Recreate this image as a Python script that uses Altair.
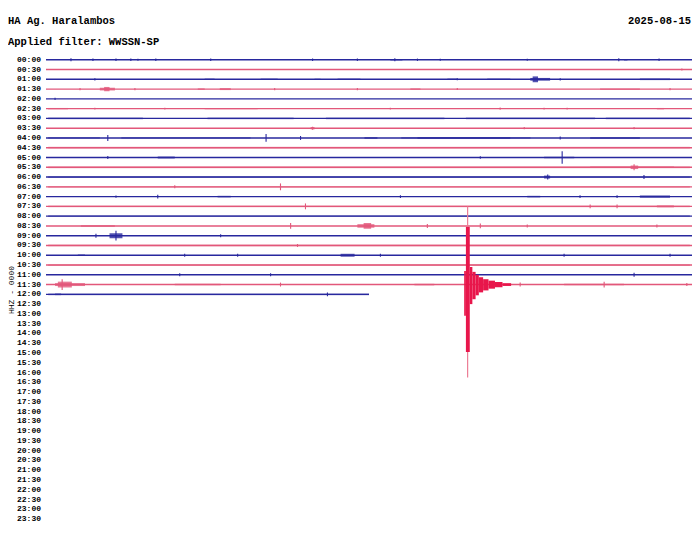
import altair as alt
import pandas as pd

# ---------------- data ----------------
station = "HA Ag. Haralambos"
filter_text = "Applied filter: WWSSN-SP"
date_text = "2025-08-15"
channel_text = "HHZ - 0000"

row_labels = [f"{h:02d}:{m:02d}" for h in range(24) for m in (0, 30)]
# minutes recorded in each 30-minute row (rows 0..24 have data)
row_lengths = [30.0] * 24 + [15.0]

# single spikes: (row, minute, amplitude in row units)
spikes = [
    (0, 1.16, 0.15), (0, 2.18, 0.12), (0, 3.25, 0.12), (0, 3.94, 0.12), (0, 4.27, 0.1),
    (0, 5.10, 0.12), (0, 7.65, 0.12), (0, 12.38, 0.12), (0, 14.46, 0.12), (0, 16.2, 0.15),
    (0, 17.25, 0.12), (0, 18.31, 0.1), (0, 22.35, 0.1), (0, 26.6, 0.15), (0, 28.47, 0.12),
    (1, 29.53, 0.1),
    (2, 2.27, 0.12), (2, 23.88, 0.12), (2, 19.10, 0.1),
    (3, 1.58, 0.12), (3, 4.13, 0.12), (3, 10.62, 0.12), (3, 14.46, 0.12), (3, 19.10, 0.1), (3, 28.98, 0.12),
    (4, 0.42, 0.12),
    (5, 2.27, 0.1), (5, 5.52, 0.1), (5, 15.99, 0.1), (5, 21.09, 0.12), (5, 23.13, 0.1), (5, 24.20, 0.1),
    (7, 12.38, 0.15), (7, 22.21, 0.12), (7, 27.31, 0.12),
    (8, 2.87, 0.3), (8, 10.22, 0.4), (8, 11.82, 0.2), (8, 23.88, 0.15),
    (10, 2.87, 0.15), (10, 20.17, 0.12), (10, 23.97, 0.65),
    (11, 27.31, 0.3),
    (12, 23.30, 0.25), (12, 27.77, 0.2),
    (13, 5.98, 0.15), (13, 10.89, 0.35),
    (14, 3.25, 0.12), (14, 5.19, 0.2), (14, 16.46, 0.15), (14, 24.80, 0.15), (14, 26.52, 0.15),
    (15, 12.05, 0.3), (15, 25.27, 0.2), (15, 26.52, 0.2),
    (17, 11.36, 0.3), (17, 17.71, 0.2), (17, 20.17, 0.25), (17, 22.35, 0.15), (17, 28.37, 0.15),
    (18, 2.32, 0.2), (18, 3.25, 0.5), (18, 8.11, 0.15),
    (19, 11.68, 0.15),
    (20, 6.44, 0.15), (20, 8.90, 0.15), (20, 15.53, 0.15), (20, 24.06, 0.15), (20, 28.98, 0.15),
    (22, 6.21, 0.15), (22, 10.43, 0.15), (22, 27.31, 0.2),
    (23, 0.75, 0.55), (23, 10.89, 0.2), (23, 20.17, 0.2), (23, 22.02, 0.2), (23, 25.92, 0.3),
    (23, 29.76, 0.15),
    (24, 13.07, 0.2),
]

# bursts: (row, start minute, end minute, amplitude in row units)
bursts = [
    (0, 15.99, 16.55, 0.07), (0, 26.84, 27.0, 0.07),
    (2, 7.37, 7.83, 0.07), (2, 9.97, 10.76, 0.07), (2, 12.47, 12.75, 0.06), (2, 13.54, 14.60, 0.07),
    (2, 18.64, 19.10, 0.07), (2, 20.49, 21.56, 0.07), (2, 22.49, 23.41, 0.14), (2, 22.60, 22.85, 0.3),
    (2, 27.58, 28.98, 0.08),
    (3, 2.50, 3.20, 0.14), (3, 2.70, 2.95, 0.22), (3, 7.05, 7.37, 0.07), (3, 8.07, 8.58, 0.1),
    (3, 16.92, 17.39, 0.07), (3, 25.73, 27.58, 0.07),
    (5, 0.09, 1.02, 0.07), (5, 7.37, 9.83, 0.06), (5, 28.37, 28.70, 0.07),
    (7, 12.29, 12.47, 0.12),
    (8, 14.79, 15.39, 0.08), (8, 17.25, 21.56, 0.07), (8, 25.27, 27.58, 0.07),
    (10, 5.19, 5.98, 0.1), (10, 23.13, 24.53, 0.08),
    (11, 25.27, 29.16, 0.07), (11, 27.15, 27.5, 0.18),
    (12, 23.13, 23.41, 0.15),
    (14, 7.97, 8.58, 0.08), (14, 22.35, 22.95, 0.08), (14, 27.58, 28.98, 0.12),
    (15, 28.37, 29.16, 0.1),
    (17, 1.62, 3.20, 0.08), (17, 14.46, 15.25, 0.18), (17, 14.75, 15.10, 0.3),
    (18, 2.95, 3.55, 0.25),
    (20, 1.48, 1.81, 0.08), (20, 13.68, 14.33, 0.15),
    (23, 0.42, 1.81, 0.15), (23, 0.55, 1.20, 0.3), (23, 5.98, 8.11, 0.08),
    (23, 17.11, 18.03, 0.08), (23, 24.06, 26.84, 0.08),
    (24, 0.42, 0.70, 0.08),
]

# noisy stretches that thicken the trace: (row, start minute, end minute)
noise = [
    (6, 0.1, 4.5), (6, 7.5, 11.5), (6, 13.0, 18.5), (6, 19.5, 25.5), (6, 26.0, 29.9),
    (8, 0.1, 2.5), (8, 3.5, 9.5), (8, 16.5, 22.5),
    (9, 0.1, 29.9), (11, 0.1, 29.9), (12, 0.1, 29.9), (13, 0.1, 29.9),
    (15, 0.1, 29.9), (16, 0.1, 29.9), (19, 0.1, 29.9), (21, 0.1, 29.9),
    (24, 0.1, 15.0),
]

# the large earthquake in the 11:30 row: (row, minute, up, down)
quake_trace = [(23, 19.58, 8.0, 9.5)]
# its strong-motion core and decaying coda: (row, start, end, up, down)
quake_body = [
    (23, 19.50, 19.68, 5.9, 6.9),
    (23, 19.42, 19.50, 1.4, 3.2),
    (23, 19.68, 19.80, 1.8, 2.0),
    (23, 19.80, 19.95, 1.3, 1.5),
    (23, 19.95, 20.10, 1.0, 1.1),
    (23, 20.10, 20.30, 0.75, 0.8),
    (23, 20.30, 20.55, 0.55, 0.6),
    (23, 20.55, 20.85, 0.4, 0.42),
    (23, 20.85, 21.20, 0.25, 0.27),
    (23, 21.20, 21.60, 0.14, 0.14),
]

# ---------------- tables ----------------
def trace_color(r):
    return "blue" if r % 2 == 0 else "red"

base_df = pd.DataFrame({
    "row": list(range(len(row_lengths))),
    "t0": [0.0] * len(row_lengths),
    "t1": row_lengths,
})
base_df["c"] = base_df["row"].map(trace_color)

label_df = pd.DataFrame({"row": list(range(len(row_labels))), "lab": row_labels})

spike_df = pd.DataFrame(spikes, columns=["row", "t", "amp"])
spike_df["lo"] = spike_df["row"] - spike_df["amp"]
spike_df["hi"] = spike_df["row"] + spike_df["amp"]
spike_df["c"] = spike_df["row"].map(trace_color)

burst_df = pd.DataFrame(bursts, columns=["row", "t0", "t1", "amp"])
burst_df["lo"] = burst_df["row"] - burst_df["amp"]
burst_df["hi"] = burst_df["row"] + burst_df["amp"]
burst_df["c"] = burst_df["row"].map(trace_color)

noise_df = pd.DataFrame(noise, columns=["row", "t0", "t1"])
noise_df["lo"] = noise_df["row"] - 0.09
noise_df["hi"] = noise_df["row"] + 0.09
noise_df["c"] = noise_df["row"].map(trace_color)

qt_df = pd.DataFrame(quake_trace, columns=["row", "t", "up", "down"])
qt_df["lo"] = qt_df["row"] - qt_df["up"]
qt_df["hi"] = qt_df["row"] + qt_df["down"]

qb_df = pd.DataFrame(quake_body, columns=["row", "t0", "t1", "up", "down"])
qb_df["lo"] = qb_df["row"] - qb_df["up"]
qb_df["hi"] = qb_df["row"] + qb_df["down"]

# ---------------- scales ----------------
W, H = 646, 475
FONT = "Liberation Mono"
xs = alt.Scale(domain=[0, 30], nice=False, zero=False)
ys = alt.Scale(domain=[-1, 47.6], reverse=True, nice=False, zero=False)

line_col = alt.Scale(domain=["blue", "red"], range=["#28289e", "#e2577a"])
spike_col = alt.Scale(domain=["blue", "red"], range=["#1515c8", "#e3174b"])

hidden_axis = alt.Axis(labels=False, ticks=False, domain=False, grid=False, title=None)

base = alt.Chart(base_df).mark_rule(strokeWidth=1.4).encode(
    x=alt.X("t0:Q", scale=xs, axis=hidden_axis),
    x2="t1:Q",
    y=alt.Y("row:Q", scale=ys, axis=hidden_axis),
    color=alt.Color("c:N", scale=line_col, legend=None),
)

labels_l = alt.Chart(label_df).mark_text(
    font=FONT, fontSize=8, fontWeight="bold", align="right", baseline="middle", color="#000"
).encode(
    x=alt.value(-5),
    y=alt.Y("row:Q", scale=ys),
    text="lab:N",
)

noise_l = alt.Chart(noise_df).mark_rect(opacity=0.5).encode(
    x=alt.X("t0:Q", scale=xs), x2="t1:Q",
    y=alt.Y("lo:Q", scale=ys), y2="hi:Q",
    color=alt.Color("c:N", scale=line_col, legend=None),
)

burst_l = alt.Chart(burst_df).mark_rect(opacity=0.8).encode(
    x=alt.X("t0:Q", scale=xs), x2="t1:Q",
    y=alt.Y("lo:Q", scale=ys), y2="hi:Q",
    color=alt.Color("c:N", scale=spike_col, legend=None),
)

spike_l = alt.Chart(spike_df).mark_rule(strokeWidth=1.1).encode(
    x=alt.X("t:Q", scale=xs),
    y=alt.Y("lo:Q", scale=ys), y2="hi:Q",
    color=alt.Color("c:N", scale=spike_col, legend=None),
)

qt_l = alt.Chart(qt_df).mark_rule(strokeWidth=1.2, color="#ec7d95").encode(
    x=alt.X("t:Q", scale=xs),
    y=alt.Y("lo:Q", scale=ys), y2="hi:Q",
)

qb_l = alt.Chart(qb_df).mark_rect(color="#e8164b").encode(
    x=alt.X("t0:Q", scale=xs), x2="t1:Q",
    y=alt.Y("lo:Q", scale=ys), y2="hi:Q",
)

text_style = dict(font=FONT, fontSize=10.5, fontWeight="bold", baseline="middle", color="#000")
title_l = alt.Chart(pd.DataFrame({"s": [station]})).mark_text(align="left", **text_style).encode(
    text="s:N", x=alt.value(-38), y=alt.value(-29))
sub_l = alt.Chart(pd.DataFrame({"s": [filter_text]})).mark_text(align="left", **text_style).encode(
    text="s:N", x=alt.value(-38), y=alt.value(-8))
date_l = alt.Chart(pd.DataFrame({"s": [date_text]})).mark_text(align="right", **text_style).encode(
    text="s:N", x=alt.value(W - 1), y=alt.value(-29))
chan_l = alt.Chart(pd.DataFrame({"s": [channel_text]})).mark_text(
    font=FONT, fontSize=8, align="center", baseline="middle", color="#000", angle=270
).encode(text="s:N", x=alt.value(-34), y=alt.value(240))

chart = alt.layer(
    base, noise_l, burst_l, spike_l, qt_l, qb_l, labels_l, title_l, sub_l, date_l, chan_l
).properties(
    width=W, height=H,
    autosize=alt.AutoSizeParams(type="none"),
    padding={"left": 38, "top": 42, "right": 0, "bottom": 0},
).configure(background="white").configure_view(strokeOpacity=0, strokeWidth=0)

chart.save("out.html", embed_options={"renderer": "svg", "actions": False})
